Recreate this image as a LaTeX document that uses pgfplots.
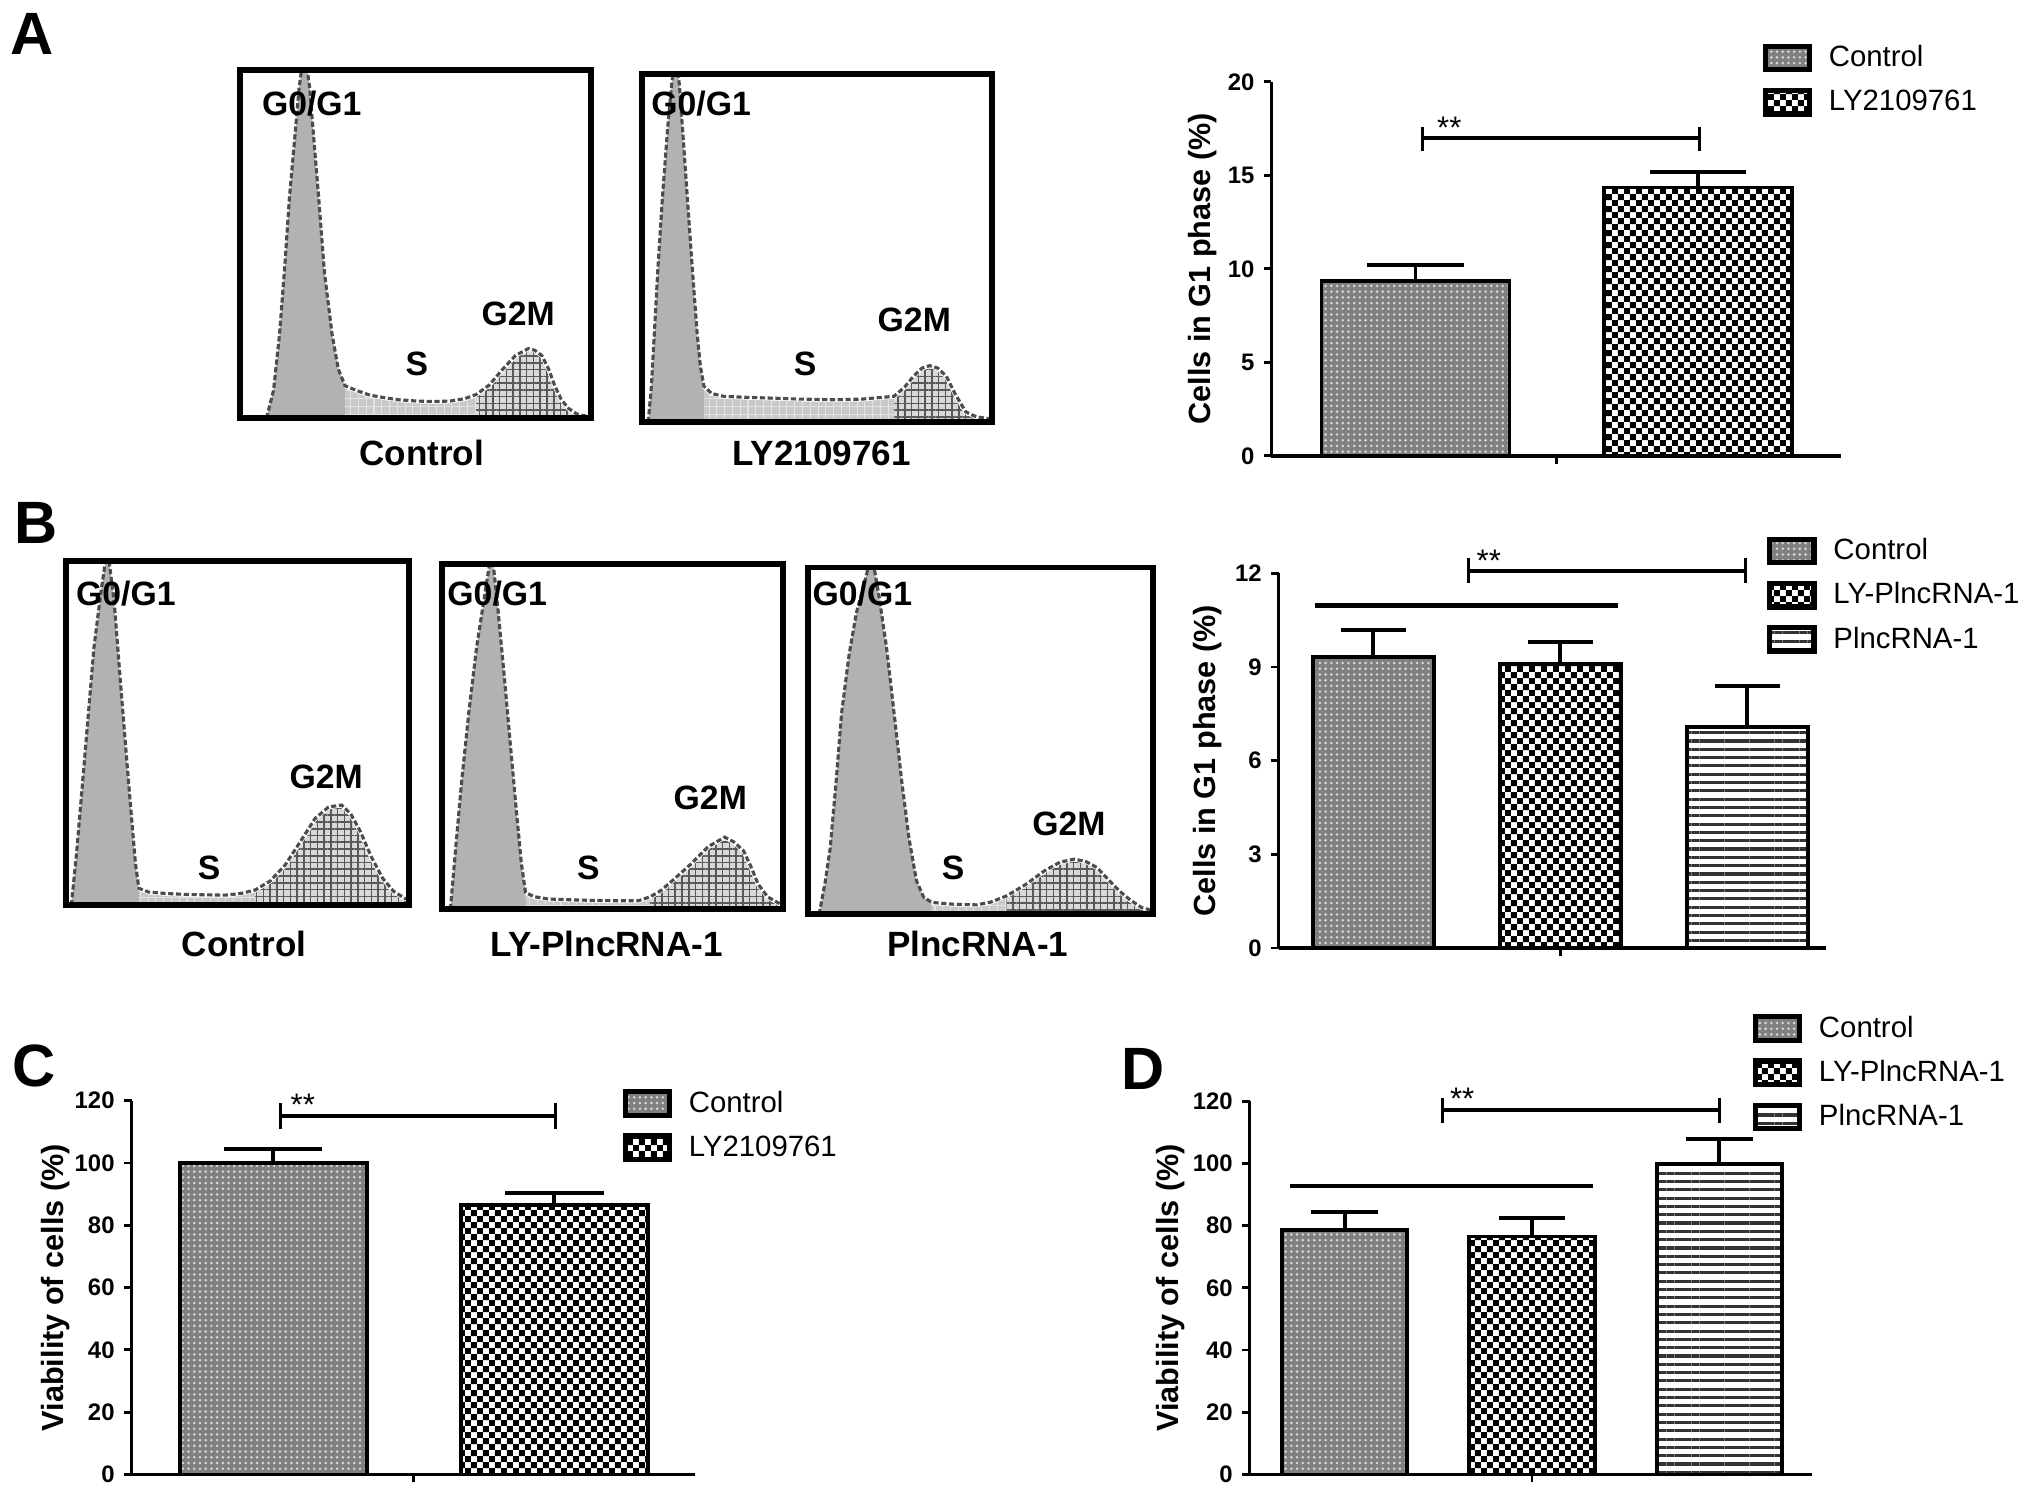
\documentclass[border=0pt]{standalone}
\usepackage{fontspec}
\setmainfont{Liberation Sans}
\usepackage{pgfplots}
\pgfplotsset{compat=1.18}
\usepackage{pgfplotstable}
\usetikzlibrary{patterns,patterns.meta}

\pgfdeclarepatternformonly{mycheck}{\pgfpointorigin}{\pgfqpoint{4.6pt}{4.6pt}}{\pgfqpoint{4.6pt}{4.6pt}}{%
 \pgfpathrectangle{\pgfpointorigin}{\pgfqpoint{2.3pt}{2.3pt}}%
 \pgfpathrectangle{\pgfqpoint{2.3pt}{2.3pt}}{\pgfqpoint{2.3pt}{2.3pt}}%
 \pgfusepath{fill}}

\tikzset{
 ctrlfill/.style={fill=black!50, postaction={pattern={Dots[distance=2.2pt,radius=0.55pt]}, pattern color=white!85!black}},
 lyfill/.style={fill=white, postaction={pattern=mycheck, pattern color=black}},
 plncfill/.style={fill=white, postaction={pattern={Lines[angle=0,distance=3.2pt,line width=1.2pt]}, pattern color=black!80}},
 hl/.style={font=\fontsize{13}{13}\selectfont\bfseries, inner sep=0pt, anchor=center},
 ul/.style={font=\fontsize{13.5}{14}\selectfont\bfseries, inner sep=0pt, anchor=base},
 pl/.style={font=\fontsize{23}{23}\selectfont\bfseries, inner sep=0pt, anchor=center},
 star/.style={anchor=base west, font=\fontsize{12}{12}\selectfont, inner sep=0pt},
}

\pgfplotsset{
 mylegend/.style={legend image code/.code={\draw[##1, line width=2pt] (0pt,-4.5pt) rectangle (17pt,4.5pt);}},
 mybar/.style={ybar, bar shift=0pt, draw=black, line width=1.5pt, mylegend},
 errl/.style={black, line width=1.5pt, forget plot},
 brk/.style={black, line width=1.6pt, forget plot},
 brkc/.style={black, line width=1.2pt, forget plot},
 ylabpos/.style={every axis y label/.style={at={(axis description cs:#1,0.5)}, rotate=90, anchor=center, font=\fontsize{11.8}{12}\selectfont\bfseries}},
 histax/.style={scale only axis, anchor=south west, xmin=0, xmax=100, ymin=0, ymax=100,
   ticks=none, axis line style={line width=2.3pt}, axis on top, clip=true},
 barax/.style={scale only axis, anchor=south west,
   axis x line*=bottom, axis y line*=left,
   every outer x axis line/.append style={-}, every outer y axis line/.append style={-},
   axis line style={line width=1.3pt},
   tick style={line width=1.1pt, black}, major tick length=3pt, tick align=outside,
   xticklabels={}, ymin=0, clip=false,
   /pgf/number format/assume math mode=true,
   yticklabel style={font=\fontsize{9.2}{10}\selectfont\bfseries},
   legend style={draw=none, fill=none, anchor=north west, inner sep=0pt,
     font=\fontsize{11.3}{13}\selectfont, row sep=6pt,
     nodes={inner sep=0pt},
     /tikz/every odd column/.append style={column sep=6.5pt}},
   legend cell align=left},
}

\newcommand{\histo}[3]{%
 \addplot[fill=gray!60, draw=none] table {#1} \closedcycle;
 \addplot[fill=gray!42, draw=none, postaction={pattern={Hatch[angle=0,distance=3pt,line width=0.4pt]}, pattern color=gray!22}, restrict x to domain=#2:#3] table {#1} \closedcycle;
 \addplot[fill=gray!30, draw=none, postaction={pattern={Hatch[angle=0,distance=2.6pt,line width=0.6pt]}, pattern color=gray!70!black}, restrict x to domain=#3:100] table {#1} \closedcycle;
 \addplot[white, line width=1.8pt, restrict x to domain=#2:100] table {#1};
 \addplot[black!70, line width=1.2pt, dash pattern=on 2pt off 1pt] table {#1};
}

\pgfplotstableread{
x y
7.5 0
9.5 8
11.2 24
12.8 45
14 63
15.5 80
16.8 95
18.3 106
19.8 95
21 80
22.4 63
24 42
26.2 24
28 14
29.9 9.3
33.6 7.8
37 6.6
41 5.9
45 5.3
50.5 4.9
55 4.8
59.8 4.9
64 5.6
67.3 6.8
71 9.5
74.8 14
78.5 18
82.2 20
84 19.5
86 18
88 14
89.7 9.3
91.5 5.5
93.5 2.9
96 1.2
99 0.5
100 0.3
}\hAa

\pgfplotstableread{
x y
1.9 0
2.8 10
3.8 28
4.7 44.6
6 65
7.5 85
8.6 97
9.7 106
10.8 97
12 80
13.1 64
14.5 44
15.9 25
16.8 16
17.8 10.3
20 8.2
23.4 7.4
30 7.1
36.4 6.9
45 6.6
55.1 6.4
63 6.6
72 7.4
75 10
77.6 13.2
80 15.5
82.2 16.2
84.5 15.5
86.9 13.2
89.5 8
92.5 2.9
95.5 1.5
99 1
100 0.8
}\hAb

\pgfplotstableread{
x y
1.5 0
3 15
4.8 36
6.5 56
8.1 75
10 90
12 104
14 88
15.8 65
17.5 44
19 26
20.2 12
21.2 4.9
24 3.8
28.9 3.4
35 3.1
40 3
46.4 2.9
51 3.4
55.1 4.4
59.5 7
63.9 11.7
68 18
72.6 25.2
76.5 28.5
80.3 29.1
83 26.5
85.8 21.4
89 14
92.3 7.8
95.5 4
98.9 1.9
100 1.5
}\hBa

\pgfplotstableread{
x y
2.6 0
4 16
5.9 37
8 57
10.3 76
12.5 90
14.7 104
16.6 86
18.5 66
20.3 46
22 27.5
23.4 13
24.6 4.8
27 3.6
31.2 2.9
40 2.6
50 2.4
57.6 2.4
61 3.5
64.2 5.3
68.5 9
73 13
78 18
82.9 20.8
85.5 19.5
88.4 16.9
90.5 12.5
92.7 7.2
95.5 3.5
99.3 1.4
100 1.2
}\hBb

\pgfplotstableread{
x y
3.3 0
5 9
6.5 19
8.2 38
9.8 58
12 75
14.1 87
16.3 95
18.5 104
20.6 92
22.8 77
25 58
27.2 38.5
29.3 22
31.5 9.6
33.5 5
35.9 3.4
42 2.9
48.9 2.7
53 3.5
57.6 5.3
63 8.5
68.5 12.5
73 15
77.2 15.9
80.5 15.2
83.7 13.5
87 10
90.2 6.7
93.5 4
96.7 1.9
100 1
}\hBc

\begin{document}
\begin{tikzpicture}
\useasboundingbox (0pt,0pt) rectangle (782pt,-576.5pt);

% ---------- Panel A histograms ----------
\begin{axis}[histax, at={(92.5pt,-161pt)}, width=135pt, height=134pt]
\histo{\hAa}{29.9}{67.3}
\node[hl] at (axis cs:20.4,90.3) {G0/G1};
\node[hl] at (axis cs:50.4,15.7) {S};
\node[hl] at (axis cs:79.3,29.9) {G2M};
\end{axis}
\begin{axis}[histax, at={(247pt,-162.5pt)}, width=135pt, height=134pt]
\histo{\hAb}{17.8}{72}
\node[hl] at (axis cs:17,91.4) {G0/G1};
\node[hl] at (axis cs:46.7,16.8) {S};
\node[hl] at (axis cs:77.8,29.5) {G2M};
\end{axis}

% ---------- Panel B histograms ----------
\begin{axis}[histax, at={(25.5pt,-348.5pt)}, width=132pt, height=132.5pt]
\histo{\hBa}{21.2}{55.1}
\node[hl] at (axis cs:17.4,90.6) {G0/G1};
\node[hl] at (axis cs:41.7,10.9) {S};
\node[hl] at (axis cs:75.8,37.4) {G2M};
\end{axis}
\begin{axis}[histax, at={(170pt,-350pt)}, width=131.5pt, height=133pt]
\histo{\hBb}{24.6}{61}
\node[hl] at (axis cs:16.3,91.4) {G0/G1};
\node[hl] at (axis cs:43,12) {S};
\node[hl] at (axis cs:78.7,32.3) {G2M};
\end{axis}
\begin{axis}[histax, at={(311pt,-352pt)}, width=133pt, height=133.5pt]
\histo{\hBc}{35.9}{57.6}
\node[hl] at (axis cs:15.8,92.5) {G0/G1};
\node[hl] at (axis cs:42.1,13.5) {S};
\node[hl] at (axis cs:75.6,26.2) {G2M};
\end{axis}

% ---------- Panel A bar chart ----------
\begin{axis}[barax, at={(489.5pt,-175.5pt)}, width=219.5pt, height=144pt,
  xmin=-0.51, xmax=1.507, ymax=20, ytick={0,5,10,15,20}, xtick={0.5},
  ylabel={Cells in G1 phase (\%)}, ylabpos=-0.12,
  legend style={at={(0.861,1.103)}}]
\addplot[mybar, ctrlfill, bar width=0.665] coordinates {(0,9.35)};
\addlegendentry{Control}
\addplot[mybar, lyfill, bar width=0.665] coordinates {(1,14.35)};
\addlegendentry{LY2109761}
\addplot[errl] coordinates {(0,9.35) (0,10.2)};
\addplot[errl] coordinates {(-0.17,10.2) (0.17,10.2)};
\addplot[errl] coordinates {(1,14.35) (1,15.2)};
\addplot[errl] coordinates {(0.83,15.2) (1.17,15.2)};
\addplot[brk] coordinates {(0.025,17) (1.005,17)};
\addplot[brkc] coordinates {(0.025,16.3) (0.025,17.6)};
\addplot[brkc] coordinates {(1.005,16.3) (1.005,17.6)};
\node[star] at (axis cs:0.075,16.95) {**};
\end{axis}

% ---------- Panel B bar chart ----------
\begin{axis}[barax, at={(492.35pt,-365pt)}, width=210.65pt, height=144.25pt,
  xmin=-0.505, xmax=2.419, ymax=12, ytick={0,3,6,9,12}, xtick={1},
  ylabel={Cells in G1 phase (\%)}, ylabpos=-0.13,
  legend style={at={(0.892,1.099)}}]
\addplot[mybar, ctrlfill, bar width=0.646] coordinates {(0,9.31)};
\addlegendentry{Control}
\addplot[mybar, lyfill, bar width=0.646] coordinates {(1,9.1)};
\addlegendentry{LY-PlncRNA-1}
\addplot[mybar, plncfill, bar width=0.646] coordinates {(2,7.09)};
\addlegendentry{PlncRNA-1}
\addplot[errl] coordinates {(0,9.31) (0,10.19)};
\addplot[errl] coordinates {(-0.174,10.19) (0.174,10.19)};
\addplot[errl] coordinates {(1,9.1) (1,9.79)};
\addplot[errl] coordinates {(0.826,9.79) (1.174,9.79)};
\addplot[errl] coordinates {(2,7.09) (2,8.40)};
\addplot[errl] coordinates {(1.826,8.40) (2.174,8.40)};
\addplot[brk] coordinates {(-0.31,10.97) (1.31,10.97)};
\addplot[brk] coordinates {(0.51,12.08) (1.99,12.08)};
\addplot[brkc] coordinates {(0.51,11.7) (0.51,12.5)};
\addplot[brkc] coordinates {(1.99,11.7) (1.99,12.5)};
\node[star] at (axis cs:0.55,12.07) {**};
\end{axis}

% ---------- Panel C bar chart ----------
\begin{axis}[barax, at={(50.65pt,-567.7pt)}, width=216.85pt, height=143.9pt,
  xmin=-0.504, xmax=1.499, ymax=120, ytick={0,20,40,60,80,100,120}, xtick={0.5},
  ylabel={Viability of cells (\%)}, ylabpos=-0.134,
  legend style={at={(0.871,1.032)}}]
\addplot[mybar, ctrlfill, bar width=0.665] coordinates {(0,100)};
\addlegendentry{Control}
\addplot[mybar, lyfill, bar width=0.665] coordinates {(1,86.4)};
\addlegendentry{LY2109761}
\addplot[errl] coordinates {(0,100) (0,104.6)};
\addplot[errl] coordinates {(-0.175,104.6) (0.175,104.6)};
\addplot[errl] coordinates {(1,86.4) (1,90.3)};
\addplot[errl] coordinates {(0.825,90.3) (1.175,90.3)};
\addplot[brk] coordinates {(0.025,115) (1.005,115)};
\addplot[brkc] coordinates {(0.025,111) (0.025,119.4)};
\addplot[brkc] coordinates {(1.005,111) (1.005,119.4)};
\node[star] at (axis cs:0.06,115.2) {**};
\end{axis}

% ---------- Panel D bar chart ----------
\begin{axis}[barax, at={(481.15pt,-567.7pt)}, width=216.7pt, height=143.7pt,
  xmin=-0.507, xmax=2.497, ymax=120, ytick={0,20,40,60,80,100,120}, xtick={1},
  ylabel={Viability of cells (\%)}, ylabpos=-0.14,
  legend style={at={(0.893,1.2345)}}]
\addplot[mybar, ctrlfill, bar width=0.67] coordinates {(0,78.7)};
\addlegendentry{Control}
\addplot[mybar, lyfill, bar width=0.67] coordinates {(1,76.5)};
\addlegendentry{LY-PlncRNA-1}
\addplot[mybar, plncfill, bar width=0.67] coordinates {(2,99.8)};
\addlegendentry{PlncRNA-1}
\addplot[errl] coordinates {(0,78.7) (0,84.3)};
\addplot[errl] coordinates {(-0.178,84.3) (0.178,84.3)};
\addplot[errl] coordinates {(1,76.5) (1,82.6)};
\addplot[errl] coordinates {(0.822,82.6) (1.178,82.6)};
\addplot[errl] coordinates {(2,99.8) (2,107.9)};
\addplot[errl] coordinates {(1.822,107.9) (2.178,107.9)};
\addplot[brk] coordinates {(-0.294,92.8) (1.324,92.8)};
\addplot[brk] coordinates {(0.52,117.3) (2.002,117.3)};
\addplot[brkc] coordinates {(0.52,112.9) (0.52,121)};
\addplot[brkc] coordinates {(2.002,112.9) (2.002,121)};
\node[star] at (axis cs:0.56,117.2) {**};
\end{axis}

% ---------- panel letters and sample labels ----------
\node[pl] at (12.5pt,-13pt) {A};
\node[pl] at (13.75pt,-201.5pt) {B};
\node[pl] at (13pt,-410.5pt) {C};
\node[pl] at (440pt,-411.5pt) {D};
\node[ul] at (162.35pt,-179.25pt) {Control};
\node[ul] at (316.35pt,-179.25pt) {LY2109761};
\node[ul] at (94pt,-368.15pt) {Control};
\node[ul] at (233.5pt,-368.15pt) {LY-PlncRNA-1};
\node[ul] at (376.5pt,-368.15pt) {PlncRNA-1};
\end{tikzpicture}
\end{document}
